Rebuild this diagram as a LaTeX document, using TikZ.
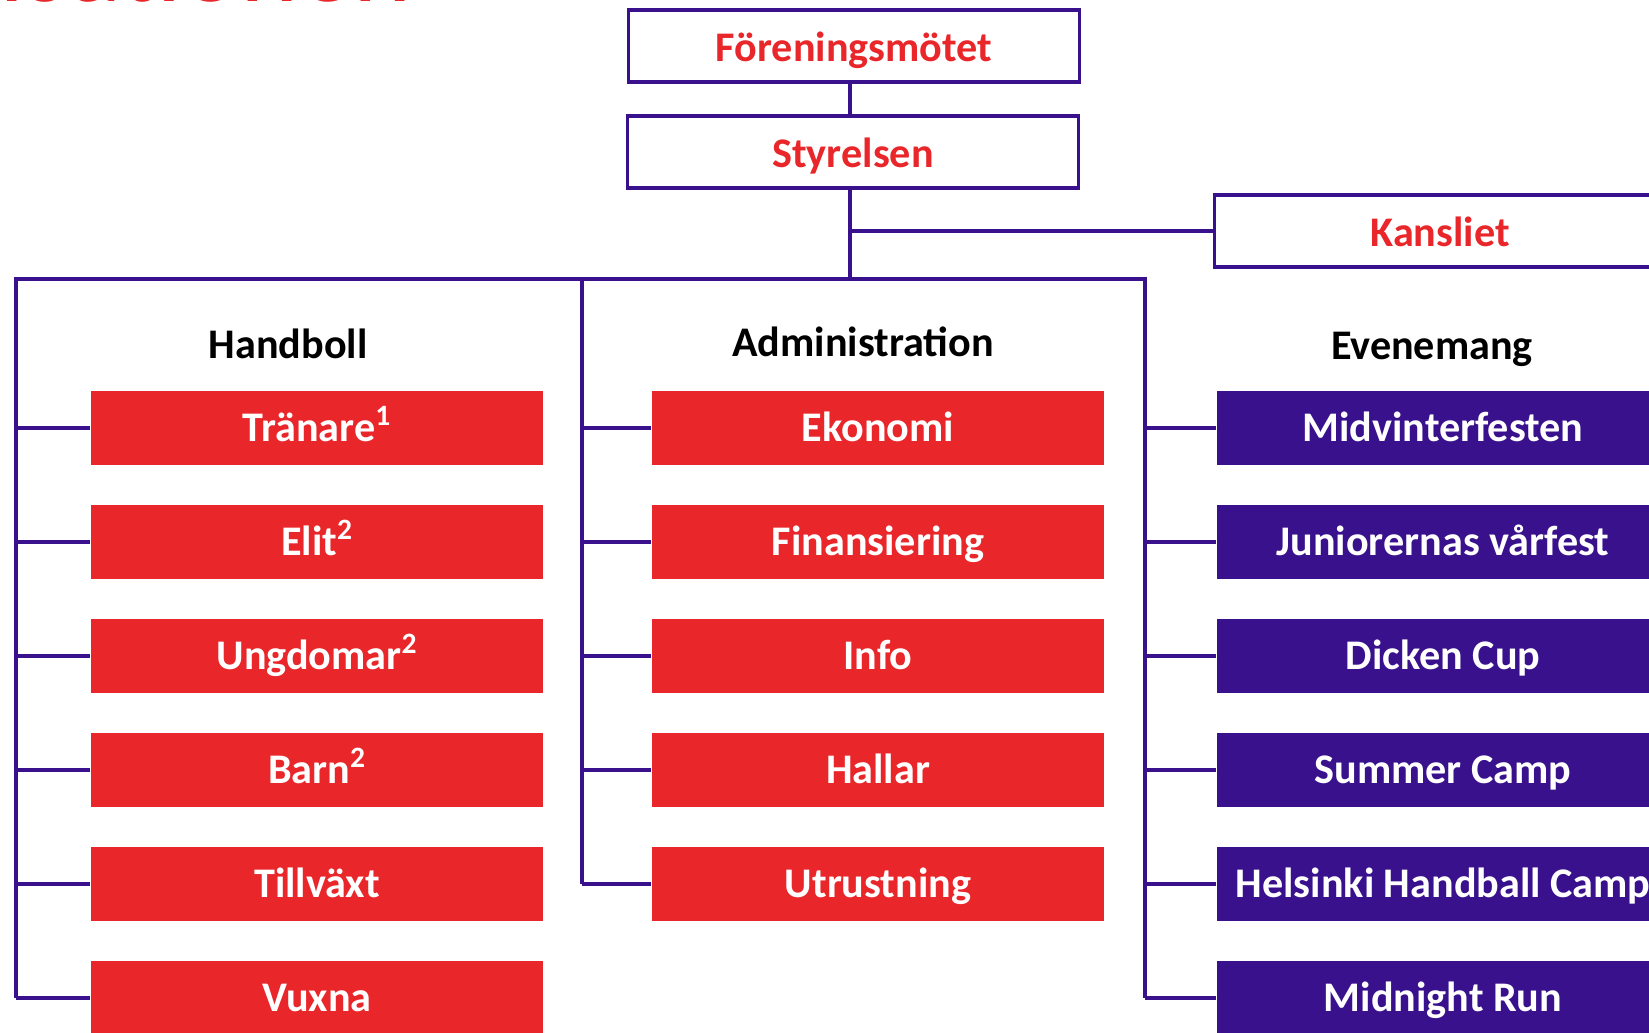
\documentclass[tikz,border=0pt]{standalone}
\usepackage{fontspec}
\setmainfont{Carlito}
\usetikzlibrary{positioning}
\definecolor{clubred}{RGB}{233,38,42}
\definecolor{clubpurple}{RGB}{57,17,140}
\newcommand{\boxfont}{\fontsize{24}{28}\selectfont\bfseries}

\begin{document}
\begin{tikzpicture}[x=0.02cm, y=-0.02cm,
    topbox/.style={draw=clubpurple, line width=2.1pt, fill=white, inner sep=0pt,
      minimum width=9.02cm, minimum height=1.44cm, text=clubred, font=\boxfont,
      text height=17.5pt, text depth=-3pt},
    redbox/.style={fill=clubred, text=white, inner sep=0pt,
      minimum width=9.06cm, minimum height=1.48cm, font=\boxfont,
      text height=15.5pt, text depth=0pt},
    purplebox/.style={redbox, fill=clubpurple},
    head/.style={text=black, font=\boxfont, inner sep=0pt, text height=15.5pt, text depth=0pt},
    conn/.style={draw=clubpurple, line width=2.2pt}]
    \useasboundingbox[fill=white] (0,0) rectangle (1649,1033);

    % title, mostly above the page
    \node[anchor=base east, inner sep=0pt, text=clubred, font=\fontsize{63}{70}\selectfont] (title) at (412,1.5) {Organisationen};

    \node[topbox] (forening) at (854,46) {Föreningsmötet};
    \node[topbox] (styrelsen) at (853,152) {Styrelsen};
    \node[topbox] (kansliet) at (1440,231) {Kansliet};

    \coordinate (bus) at (850,279);
    \coordinate (hb) at (16,279);
    \coordinate (ad) at (582,279);
    \coordinate (ev) at (1145,279);

    \node[head] (handboll) at (288,345) {Handboll};
    \node[head] (admin) at (863,343) {Administration};
    \node[head] (evenemang) at (1432,346) {Evenemang};

    % sections
    \foreach \name/\txt [count=\i from 0] in {tranare/Tränare\textsuperscript{1}, elit/Elit\textsuperscript{2},
        ungdomar/Ungdomar\textsuperscript{2}, barn/Barn\textsuperscript{2}, tillvaxt/Tillväxt, vuxna/Vuxna}
      \node[redbox] (\name) at (317,428+114*\i) {\txt};
    \foreach \name/\txt [count=\i from 0] in {ekonomi/Ekonomi, finans/Finansiering, info/Info,
        hallar/Hallar, utrustning/Utrustning}
      \node[redbox] (\name) at (878,428+114*\i) {\txt};
    \foreach \name/\txt [count=\i from 0] in {midvinter/Midvinterfesten, varfest/Juniorernas vårfest,
        dicken/Dicken Cup, summer/Summer Camp, helsinki/Helsinki Handball Camp, midnight/Midnight Run}
      \node[purplebox] (\name) at (1443,428+114*\i) {\txt};

    % connectors
    \draw[conn] (forening.south -| bus) -- (styrelsen.north -| bus);
    \draw[conn] (styrelsen.south -| bus) -- (bus);
    \draw[conn] (kansliet.west) -- (kansliet.west -| bus);
    \draw[conn] (hb |- vuxna.west) -- (hb) -- (ev) -- (ev |- midnight.west);
    \draw[conn] (ad) -- (ad |- utrustning.west);
    \foreach \n in {tranare, elit, ungdomar, barn, tillvaxt, vuxna}
      \draw[conn] (\n.west) -- (\n.west -| hb);
    \foreach \n in {ekonomi, finans, info, hallar, utrustning}
      \draw[conn] (\n.west) -- (\n.west -| ad);
    \foreach \n in {midvinter, varfest, dicken, summer, helsinki, midnight}
      \draw[conn] (\n.west) -- (\n.west -| ev);
\end{tikzpicture}
\end{document}
